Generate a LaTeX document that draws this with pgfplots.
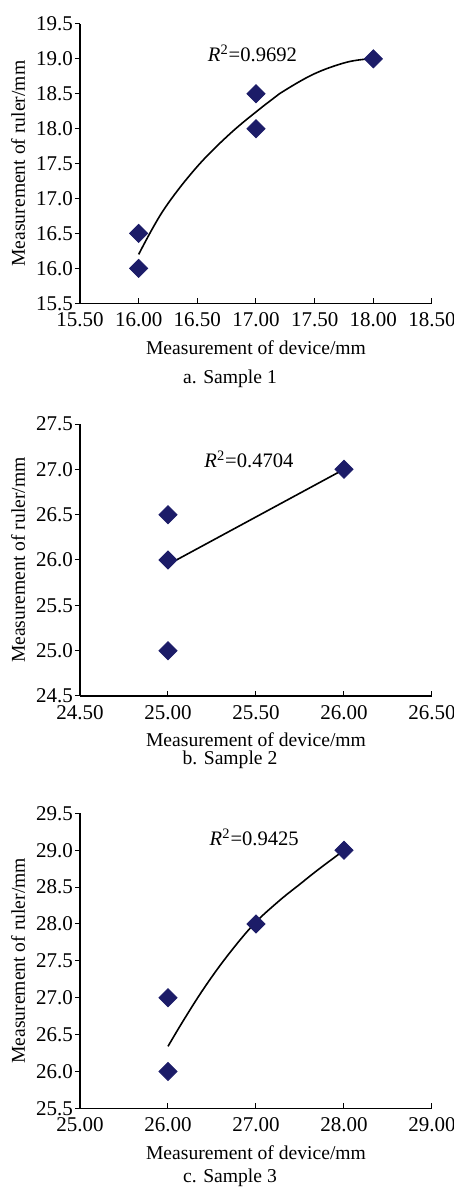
\documentclass[border=0pt]{standalone}
\usepackage{fontspec}
\setmainfont{Liberation Serif}
\usepackage{pgfplots}
\pgfplotsset{compat=1.18}
\definecolor{navy}{RGB}{28,28,104}

\tikzset{rsq/.style={font=\fontsize{10.3}{12}\selectfont}}
\pgfplotsset{
  panel/.style={
    scale only axis, width=176pt,
    axis lines*=left,
    tick align=inside, major tick length=2.5pt,
    y tick style={xshift=-2.5pt},
    tick style={black, line width=0.5pt},
    axis line style={black, line width=0.6pt},
    xtick distance=0.5, ytick distance=0.5,
    /pgf/number format/assume math mode=true,
    tick label style={font=\fontsize{10.5}{12}\selectfont},
    x tick label style={yshift=-1pt, /pgf/number format/.cd, fixed, fixed zerofill, precision=2},
    y tick label style={/pgf/number format/.cd, fixed, fixed zerofill, precision=1},
    label style={font=\fontsize{9.3}{11}\selectfont},
    xlabel={Measurement of device/mm},
    ylabel={Measurement of ruler/mm},
    every axis x label/.style={at={(axis description cs:0.5,0)}, anchor=center, yshift=-22pt},
    every axis y label/.style={at={(axis description cs:-0.176,0.5)}, anchor=center, rotate=90},
    clip=false,
  },
  pts/.style={only marks, mark=square*, mark size=3.2pt,
    mark options={rotate=45, fill=navy, draw=navy}},
  fit/.style={black, line width=0.8pt, smooth, tension=0.6, no markers},
}

\begin{document}
\begin{tikzpicture}[font=\fontsize{9.8}{11}\selectfont]
\useasboundingbox (0,0) rectangle (227pt,595pt);

% a. Sample 1
\begin{axis}[panel, at={(40pt,443.35pt)}, anchor=south west, height=139.7pt,
  xmin=15.5, xmax=18.5, ymin=15.5, ymax=19.5]
\addplot[fit] coordinates {
  (16.00,16.20) (16.21,16.83) (16.49,17.44) (16.78,17.93) (17.06,18.32)
  (17.20,18.50) (17.49,18.78) (17.77,18.95) (17.97,19.00)
};
\addplot[pts] coordinates {(16,16) (16,16.5) (17,18) (17,18.5) (18,19)};
\node[rsq] at (axis cs:16.97,19.08) {\textit{R}\textsuperscript{2}=0.9692};
\end{axis}
\node at (115pt,405.5pt) {a. Sample 1};

% b. Sample 2
\begin{axis}[panel, at={(40pt,247pt)}, anchor=south west, height=136pt,
  xmin=24.5, xmax=26.5, ymin=24.5, ymax=27.5]
\addplot[black, line width=0.8pt, no markers] coordinates {(25,25.95) (26,27.0)};
\addplot[pts] coordinates {(25,25) (25,26) (25,26.5) (26,27)};
\node[rsq] at (axis cs:25.46,27.11) {\textit{R}\textsuperscript{2}=0.4704};
\end{axis}
\node at (115pt,215pt) {b. Sample 2};

% c. Sample 3
\begin{axis}[panel, at={(40pt,40.85pt)}, anchor=south west, height=147.5pt,
  xmin=25, xmax=29, ymin=25.5, ymax=29.5, xtick distance=1]
\addplot[fit] coordinates {
  (26.00,26.34) (26.18,26.70) (26.41,27.13) (26.67,27.56) (26.97,27.99)
  (27.26,28.31) (27.50,28.54) (27.70,28.73) (27.98,28.98)
};
\addplot[pts] coordinates {(26,26) (26,27) (27,28) (28,29)};
\node[rsq] at (axis cs:26.98,29.17) {\textit{R}\textsuperscript{2}=0.9425};
\end{axis}
\node at (115pt,6pt) {c. Sample 3};
\end{tikzpicture}
\end{document}
